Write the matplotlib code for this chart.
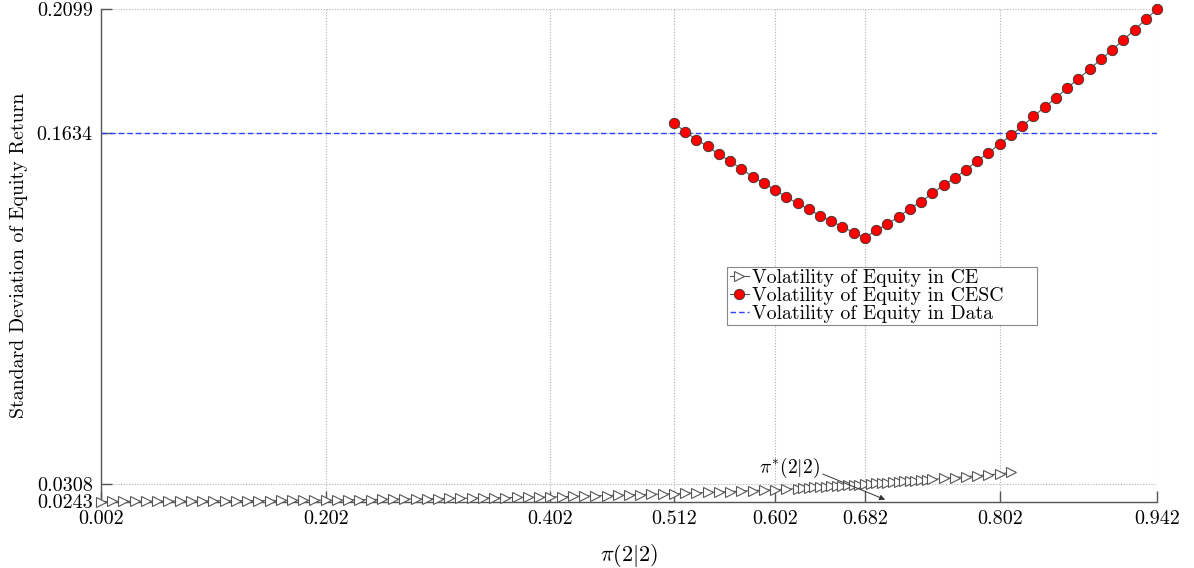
import matplotlib
matplotlib.use("Agg")
import matplotlib.pyplot as plt

plt.rcParams['font.family'] = ['cmr10', 'DejaVu Serif']
plt.rcParams['mathtext.fontset'] = 'cm'
plt.rcParams['axes.formatter.use_mathtext'] = True

# ---- data ----
ce_x = [0.002, 0.012, 0.022, 0.032, 0.042, 0.052, 0.062, 0.072, 0.082, 0.092,
        0.102, 0.112, 0.122, 0.132, 0.142, 0.152, 0.162, 0.172, 0.182, 0.192,
        0.202, 0.212, 0.222, 0.232, 0.242, 0.252, 0.262, 0.272, 0.282, 0.292,
        0.302, 0.312, 0.322, 0.332, 0.342, 0.352, 0.362, 0.372, 0.382, 0.392,
        0.402, 0.412, 0.422, 0.432, 0.442, 0.452, 0.462, 0.472, 0.482, 0.492,
        0.502, 0.512, 0.522, 0.532, 0.542, 0.552, 0.562, 0.572, 0.582, 0.592,
        0.602, 0.612, 0.622,
        0.627, 0.632, 0.637, 0.642, 0.647, 0.652, 0.657, 0.662, 0.667, 0.672,
        0.677, 0.682, 0.687, 0.692, 0.697, 0.702, 0.707, 0.712, 0.717, 0.722,
        0.727, 0.732, 0.737,
        0.742, 0.752, 0.762, 0.772, 0.782, 0.792, 0.802, 0.812]
ce_y = [0.02430, 0.02432, 0.02435, 0.02437, 0.02440, 0.02442, 0.02445, 0.02447, 0.02450, 0.02452,
        0.02455, 0.02457, 0.02460, 0.02462, 0.02465, 0.02467, 0.02470, 0.02472, 0.02475, 0.02477,
        0.02480, 0.02486, 0.02492, 0.02498, 0.02504, 0.02510, 0.02516, 0.02522, 0.02528, 0.02534,
        0.02540, 0.02546, 0.02552, 0.02558, 0.02564, 0.02570, 0.02576, 0.02582, 0.02588, 0.02594,
        0.02600, 0.02611, 0.02622, 0.02633, 0.02644, 0.02655, 0.02666, 0.02677, 0.02688, 0.02699,
        0.02710, 0.02721, 0.02738, 0.02755, 0.02772, 0.02789, 0.02806, 0.02823, 0.02840, 0.02857,
        0.02874, 0.02895, 0.02916,
        0.02937, 0.02950, 0.02963, 0.02976, 0.02990, 0.03003, 0.03016, 0.03029, 0.03042, 0.03055,
        0.03068, 0.03080, 0.03095, 0.03110, 0.03125, 0.03140, 0.03155, 0.03170, 0.03185, 0.03200,
        0.03215, 0.03230, 0.03245,
        0.03262, 0.03298, 0.03333, 0.03368, 0.03402, 0.03437, 0.03470, 0.03530]

cesc_x = [0.512, 0.522, 0.532, 0.542, 0.552, 0.562, 0.572, 0.582, 0.592, 0.602,
          0.612, 0.622, 0.632, 0.642, 0.652, 0.662, 0.672, 0.682, 0.692, 0.702,
          0.712, 0.722, 0.732, 0.742, 0.752, 0.762, 0.772, 0.782, 0.792, 0.802,
          0.812, 0.822, 0.832, 0.842, 0.852, 0.862, 0.872, 0.882, 0.892, 0.902,
          0.912, 0.922, 0.932, 0.942]
cesc_y = [0.1671, 0.1637, 0.1608, 0.1582, 0.1552, 0.1526, 0.1497, 0.1468, 0.1444, 0.1418,
          0.1391, 0.1367, 0.1346, 0.1320, 0.1300, 0.1279, 0.1257, 0.1238, 0.1265, 0.1289,
          0.1317, 0.1347, 0.1374, 0.1405, 0.1436, 0.1463, 0.1494, 0.1528, 0.1558, 0.1591,
          0.1624, 0.1658, 0.1695, 0.1730, 0.1765, 0.1802, 0.1837, 0.1873, 0.1910, 0.1945,
          0.1984, 0.2021, 0.2061, 0.2099]

data_level = 0.1634

x_ticks = [0.002, 0.202, 0.402, 0.512, 0.602, 0.682, 0.802, 0.942]
x_tick_labels = ['0.002', '0.202', '0.402', '0.512', '0.602', '0.682', '0.802', '0.942']
y_ticks = [0.0243, 0.0308, 0.1634, 0.2099]
y_tick_labels = ['0.0243', '0.0308', '0.1634', '0.2099']

annot_xy = (0.700, 0.0250)
annot_text_xy = (0.615, 0.0369)

# ---- figure ----
fig = plt.figure(figsize=(11.94, 5.68), dpi=100)
ax = fig.add_axes([101/1194, 1 - 501.5/568, (1157-101)/1194, (501.5-9.3)/568])

ax.plot(ce_x, ce_y, color='#555555', lw=0.8, marker='>', markersize=7,
        markerfacecolor='white', markeredgecolor='#555555', markeredgewidth=0.8,
        clip_on=False, zorder=3, label='Volatility of Equity in CE')
ax.plot(cesc_x, cesc_y, color='#555555', lw=0.8, marker='o', markersize=7.5,
        markerfacecolor='#ff0000', markeredgecolor='#333333', markeredgewidth=0.6,
        clip_on=False, zorder=4, label='Volatility of Equity in CESC')
ax.axhline(data_level, color='#3040ff', lw=1.0, dashes=(4, 2.2), zorder=2,
           label='Volatility of Equity in Data')

ax.set_xlim(x_ticks[0], x_ticks[-1])
ax.set_ylim(y_ticks[0], y_ticks[-1])
ax.set_xticks(x_ticks, labels=x_tick_labels)
ax.set_yticks(y_ticks, labels=y_tick_labels)
ax.tick_params(direction='in', length=8, width=1, color='#555555',
               labelsize=14.5, pad=6)
ax.grid(True, linestyle=(0, (1, 1.5)), color='#b0b0b0', lw=0.8)
ax.set_axisbelow(True)
for s in ['top', 'right']:
    ax.spines[s].set_visible(False)
for s in ['left', 'bottom']:
    ax.spines[s].set_color('#555555')
    ax.spines[s].set_linewidth(1.0)

ax.set_xlabel(r'$\pi(2|2)$', fontsize=16, labelpad=10)
ax.set_ylabel('Standard Deviation of Equity Return', fontsize=14.3, labelpad=6)

ax.annotate(r'$\pi^{*}(2|2)$', xy=annot_xy, xytext=annot_text_xy,
            ha='center', va='center', fontsize=14,
            arrowprops=dict(arrowstyle='-|>', color='#333333', lw=0.7,
                            shrinkA=0, shrinkB=0, relpos=(1.0, 0.3),
                            mutation_scale=8))

leg = ax.legend(loc='upper left', bbox_to_anchor=(0.593, 0.377, 310/1056, 0.1),
                mode='expand', fontsize=14.2,
                frameon=True, fancybox=False, framealpha=1, edgecolor='#888888',
                handlelength=1.0, handletextpad=0.15, borderpad=0.12,
                labelspacing=0.0, borderaxespad=0)
leg.get_frame().set_linewidth(0.8)

fig.savefig('out.png', dpi=100)
